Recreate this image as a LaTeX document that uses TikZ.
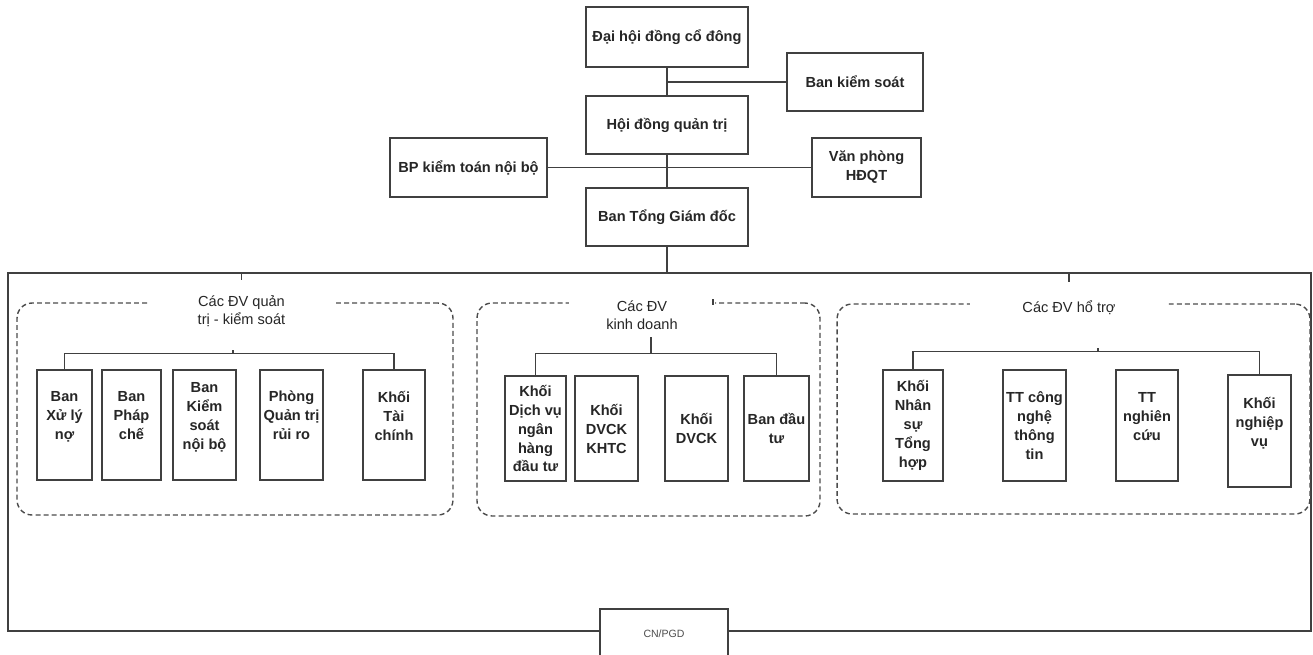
\documentclass[tikz,border=0pt]{standalone}
\usepackage{fontspec}
\setmainfont{Liberation Sans}
\tikzset{
	topbox/.style={draw=black!75, line width=1pt, fill=white, inner sep=1pt, align=center, text=black!85, font=\fontsize{8.3}{10.8}\selectfont\bfseries},
	unitbox/.style={draw=black!75, line width=0.9pt, fill=white, inner sep=1pt, align=center, text=black!85, font=\fontsize{8.3}{10.8}\selectfont\bfseries},
	grpframe/.style={draw=black!70, line width=0.8pt, dash pattern=on 2.8pt off 1.8pt, rounded corners=0.3cm, inner sep=0pt},
	grptitle/.style={fill=white, inner sep=1pt, align=center, text=black!85, font=\fontsize{8.3}{10.2}\selectfont},
	link/.style={draw=black!75, line width=0.8pt}
}

\begin{document}
\begin{tikzpicture}[x=0.02cm, y=-0.02cm]
	\useasboundingbox (0,0) rectangle (1313,654);
	\clip (0,0) rectangle (1313,654);

	\node[draw=black!75, line width=0.9pt, inner sep=0pt, minimum width=26.06cm, minimum height=7.16cm] (frame) at (659.5,452) {};

	\node[topbox, minimum width=3.24cm, minimum height=1.2cm] (dhdcd) at (667,37) {Đại hội đồng cổ đông};
	\node[topbox, minimum width=3.24cm, minimum height=1.16cm] (hdqt) at (667,125) {Hội đồng quản trị};
	\node[topbox, minimum width=3.24cm, minimum height=1.16cm] (btgd) at (667,217) {Ban Tổng Giám đốc};
	\node[topbox, minimum width=2.72cm, minimum height=1.16cm] (bks) at (855,82) {Ban kiểm soát};
	\node[topbox, minimum width=3.14cm, minimum height=1.18cm] (bpktnb) at (468.5,167.5) {BP kiểm toán nội bộ};
	\node[topbox, minimum width=2.18cm, minimum height=1.18cm] (vphdqt) at (866.5,167.5) {Văn phòng\\HĐQT};

	\draw[link] (dhdcd) -- (hdqt);
	\draw[link] (bks.west) -- (bks.west -| dhdcd.south);
	\draw[link] (hdqt) -- (btgd);
	\draw[link] (bpktnb) -- (vphdqt);
	\draw[link] (btgd) -- (btgd |- frame.north);

	\node[grpframe, minimum width=8.72cm, minimum height=4.24cm] (g1) at (235,409) {};
	\node[grptitle, minimum width=3.66cm] (t1) at (241.5,311) {Các ĐV quản\\trị - kiểm soát};
	\draw[link] (frame.north -| t1) -- ++(0,8);
	\node[unitbox, minimum width=1.1cm, minimum height=2.2cm] (xlno) at (64.5,425) {Ban\\Xử lý\\nợ\\~};
	\node[unitbox, minimum width=1.18cm, minimum height=2.2cm] (phche) at (131.5,425) {Ban\\Pháp\\chế\\~};
	\node[unitbox, minimum width=1.26cm, minimum height=2.2cm] (ksnb) at (204.5,425) {Ban\\Kiểm\\soát\\nội bộ\\~};
	\node[unitbox, minimum width=1.26cm, minimum height=2.2cm] (qtrr) at (291.5,425) {Phòng\\Quản trị\\rủi ro\\~};
	\node[unitbox, minimum width=1.24cm, minimum height=2.2cm] (ktc) at (394,425) {Khối\\Tài\\chính\\~};
	\draw[link] (xlno.north) -- ++(0,-16) coordinate (bar1) -| (ktc.north);
	\coordinate (s1) at (233,350);
	\draw[link] (s1) -- (s1 |- bar1);

	\node[grpframe, minimum width=6.86cm, minimum height=4.26cm] (g2) at (648.5,409.5) {};
	\node[grptitle, minimum width=2.92cm] (t2) at (642,315) {Các ĐV\\kinh doanh};
	\coordinate (m2) at (713,299);
	\draw[link] (m2) -- ++(0,6);
	\node[unitbox, minimum width=1.22cm, minimum height=2.1cm] (kdvnh) at (535.5,428.5) {Khối\\Dịch vụ\\ngân\\hàng\\đầu tư};
	\node[unitbox, minimum width=1.26cm, minimum height=2.1cm] (kkhtc) at (606.5,428.5) {Khối\\DVCK\\KHTC};
	\node[unitbox, minimum width=1.26cm, minimum height=2.1cm] (kdvck) at (696.5,428.5) {Khối\\DVCK};
	\node[unitbox, minimum width=1.3cm, minimum height=2.1cm] (bdt) at (776.5,428.5) {Ban đầu\\tư};
	\draw[link] (kdvnh.north) -- ++(0,-22) coordinate (bar2) -| (bdt.north);
	\coordinate (s2) at (651,337);
	\draw[link] (s2) -- (s2 |- bar2);

	\node[grpframe, minimum width=9.46cm, minimum height=4.2cm] (g3) at (1073.5,409) {};
	\node[grptitle, minimum width=3.96cm] (t3) at (1069,308) {Các ĐV hổ trợ};
	\draw[link] (frame.north -| t3) -- ++(0,10);
	\node[unitbox, minimum width=1.2cm, minimum height=2.22cm] (knsth) at (913,425.5) {Khối\\Nhân\\sự\\Tổng\\hợp};
	\node[unitbox, minimum width=1.26cm, minimum height=2.22cm] (ttcntt) at (1034.5,425.5) {TT công\\nghệ\\thông\\tin};
	\node[unitbox, minimum width=1.24cm, minimum height=2.22cm] (ttnc) at (1147,425.5) {TT\\nghiên\\cứu\\~};
	\node[unitbox, minimum width=1.26cm, minimum height=2.24cm] (knv) at (1259.5,431) {Khối\\nghiệp\\vụ\\~};
	\draw[link] (knsth.north) -- ++(0,-18) coordinate (bar3) -| (knv.north);
	\coordinate (s3) at (1098,348);
	\draw[link] (s3) -- (s3 |- bar3);

	\node[draw=black!75, line width=0.9pt, fill=white, minimum width=2.56cm, minimum height=1cm, text=black!70, font=\fontsize{6}{7}\selectfont] (cnpgd) at (664,634) {CN/PGD};
\end{tikzpicture}
\end{document}
